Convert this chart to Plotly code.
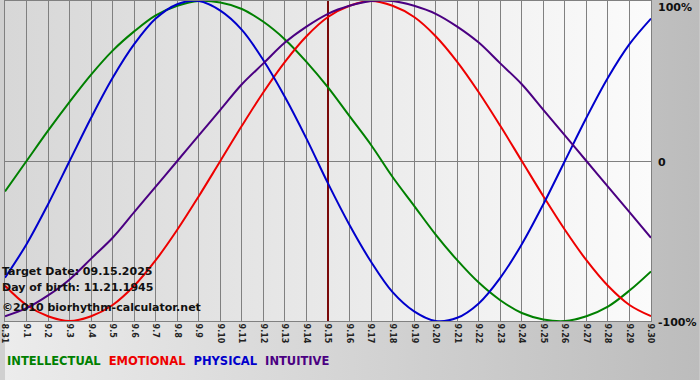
import base64
import plotly.graph_objects as go

# ---- data ----
DAYS = ["8.31", "9.1", "9.2", "9.3", "9.4", "9.5", "9.6", "9.7", "9.8", "9.9", "9.10",
        "9.11", "9.12", "9.13", "9.14", "9.15", "9.16", "9.17", "9.18", "9.19", "9.20",
        "9.21", "9.22", "9.23", "9.24", "9.25", "9.26", "9.27", "9.28", "9.29", "9.30"]

INTELLECTUAL = [-0.19, 0.00, 0.19, 0.37, 0.54, 0.69, 0.81, 0.91, 0.97, 1.00, 0.99,
                0.95, 0.87, 0.76, 0.62, 0.46, 0.28, 0.10, -0.10, -0.28, -0.46,
                -0.62, -0.76, -0.87, -0.95, -0.99, -1.00, -0.97, -0.91, -0.81, -0.69]
EMOTIONAL = [-0.78, -0.90, -0.97, -1.00, -0.97, -0.90, -0.78, -0.62, -0.43, -0.22, 0.00,
             0.22, 0.43, 0.62, 0.78, 0.90, 0.97, 1.00, 0.97, 0.90, 0.78,
             0.62, 0.43, 0.22, 0.00, -0.22, -0.43, -0.62, -0.78, -0.90, -0.97]
PHYSICAL = [-0.73, -0.52, -0.27, 0.00, 0.27, 0.52, 0.73, 0.89, 0.98, 1.00, 0.94,
            0.82, 0.63, 0.40, 0.14, -0.14, -0.40, -0.63, -0.82, -0.94, -1.00,
            -0.98, -0.89, -0.73, -0.52, -0.27, 0.00, 0.27, 0.52, 0.73, 0.89]
INTUITIVE = [-0.97, -0.92, -0.84, -0.74, -0.61, -0.48, -0.32, -0.16, 0.00, 0.16, 0.32,
             0.48, 0.61, 0.74, 0.84, 0.92, 0.97, 1.00, 1.00, 0.97, 0.92,
             0.84, 0.74, 0.61, 0.48, 0.32, 0.16, 0.00, -0.16, -0.32, -0.48]

SERIES_NAMES = ["INTELLECTUAL", "EMOTIONAL", "PHYSICAL", "INTUITIVE"]
SERIES_COLORS = ["#008000", "#ee0000", "#0000cc", "#4b0082"]

TARGET_DAY = "9.15"
Y_TICK_VALS = [1, 0, -1]
Y_TICK_TEXT = ["100%", "0", "-100%"]
INFO_LINES = ["Target Date: 09.15.2025", "Day of birth: 11.21.1945", "\u00a92010 biorhythm-calculator.net"]

FONT = "DejaVu Sans, Verdana, sans-serif"
W, H = 700, 380
ML, MR, MT, MB = 0, 49, 1, 59
PW, PH = W - ML - MR, H - MT - MB


def svg_uri(svg):
    return "data:image/svg+xml;base64," + base64.b64encode(svg.encode()).decode()


def grad_svg(c0, c1):
    return (
        "<svg xmlns='http://www.w3.org/2000/svg' width='100' height='100' viewBox='0 0 100 100' "
        "preserveAspectRatio='none'><defs><linearGradient id='g' x1='0' y1='0' x2='1' y2='0'>"
        f"<stop offset='0' stop-color='{c0}'/><stop offset='1' stop-color='{c1}'/>"
        "</linearGradient></defs><rect width='100' height='100' fill='url(#g)'/></svg>"
    )


xs = list(range(len(DAYS)))
tidx = DAYS.index(TARGET_DAY)

fig = go.Figure()
fig.add_trace(go.Scatter(x=[tidx, tidx], y=[-1, 1], mode="lines",
                         line=dict(color="#7a0a0a", width=2), hoverinfo="skip"))
for name, vals, col in zip(SERIES_NAMES, [INTELLECTUAL, EMOTIONAL, PHYSICAL, INTUITIVE], SERIES_COLORS):
    fig.add_trace(go.Scatter(x=xs, y=vals, mode="lines", name=name,
                             line=dict(color=col, width=2, shape="spline", smoothing=1),
                             hoverinfo="skip"))

annotations = []
for v, t in zip(Y_TICK_VALS, Y_TICK_TEXT):
    annotations.append(dict(x=1, xref="paper", y=v, yref="y", text=t, showarrow=False,
                            xanchor="left", yanchor="middle", xshift=5,
                            yshift=(-6 if v == 1 else -1),
                            font=dict(family=FONT, size=11, color="#111111", weight="bold")))
info_py = [271, 287, 307]
for t, py in zip(INFO_LINES, info_py):
    annotations.append(dict(x=0, xref="paper", y=(MT + PH - py) / PH, yref="paper", text=t,
                            showarrow=False, xanchor="left", yanchor="middle", xshift=-5,
                            font=dict(family=FONT, size=11, color="#111111", weight="bold")))
legend_text = "&nbsp;&nbsp;".join(
    f"<span style='color:{c}'>{n}</span>" for n, c in zip(SERIES_NAMES, SERIES_COLORS))
annotations.append(dict(x=0, xref="paper", y=(MT + PH - 361) / PH, yref="paper", text=legend_text,
                        showarrow=False, xanchor="left", yanchor="middle", xshift=0,
                        font=dict(family=FONT, size=11.5, weight="bold")))

fig.update_layout(
    width=W, height=H,
    margin=dict(l=ML, r=MR, t=MT, b=MB, pad=0),
    paper_bgcolor="#d0d0d0",
    plot_bgcolor="rgba(0,0,0,0)",
    showlegend=False,
    images=[
        dict(source=svg_uri(grad_svg("#ececec", "#bcbcbc")), xref="paper", yref="paper",
             x=-ML / PW, y=1 + MT / PH, sizex=W / PW, sizey=H / PH,
             xanchor="left", yanchor="top", sizing="stretch", layer="below"),
        dict(source=svg_uri(grad_svg("#d7d7d7", "#fbfbfb")), xref="paper", yref="paper",
             x=0, y=1, sizex=1, sizey=1,
             xanchor="left", yanchor="top", sizing="stretch", layer="below"),
    ],
    xaxis=dict(range=[0, len(DAYS) - 1], tickmode="array", tickvals=xs, ticktext=DAYS,
               tickangle=90, showgrid=True, gridcolor="#808080", gridwidth=1,
               showline=True, mirror=True, linecolor="#808080", linewidth=1,
               zeroline=False, ticks="", ticklabeloverflow="allow",
               tickfont=dict(family=FONT, size=8, color="#222222", weight="bold")),
    yaxis=dict(range=[-1, 1], tickmode="array", tickvals=Y_TICK_VALS, showticklabels=False,
               showgrid=True, gridcolor="#808080", gridwidth=1,
               showline=True, mirror=True, linecolor="#808080", linewidth=1,
               zeroline=False, ticks=""),
    annotations=annotations,
)

fig.write_html("out.html", config={"displayModeBar": False},
               post_script="document.body.style.margin='0';document.body.style.overflow='hidden';")
